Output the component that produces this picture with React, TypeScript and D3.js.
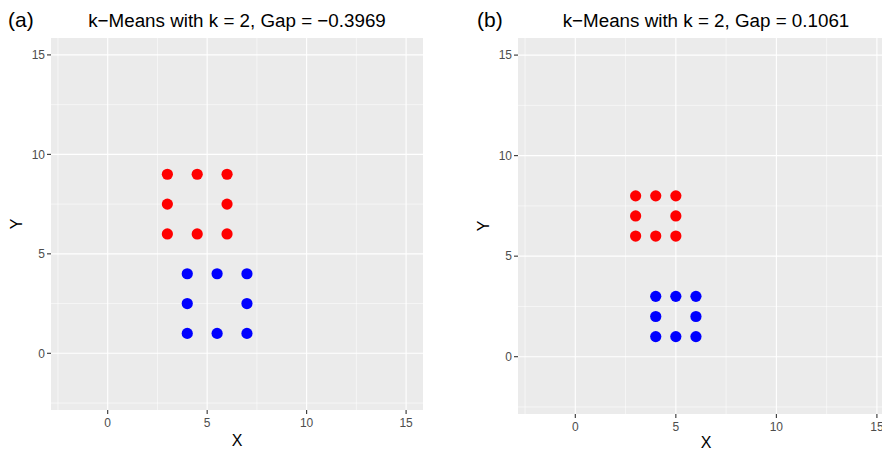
import React from 'react';
import * as d3 from 'd3';

// panel (a): Gap = -0.3969
const redAX = [3, 4.5, 6, 3, 6, 3, 4.5, 6];
const redAY = [9, 9, 9, 7.5, 7.5, 6, 6, 6];
const blueAX = [4, 5.5, 7, 4, 7, 4, 5.5, 7];
const blueAY = [4, 4, 4, 2.5, 2.5, 1, 1, 1];

// panel (b): Gap = 0.1061
const redBX = [3, 4, 5, 3, 5, 3, 4, 5];
const redBY = [8, 8, 8, 7, 7, 6, 6, 6];
const blueBX = [4, 5, 6, 4, 6, 4, 5, 6];
const blueBY = [3, 3, 3, 2, 2, 1, 1, 1];

const majorTicks = [0, 5, 10, 15];
const minorTicks = [-2.5, 2.5, 7.5, 12.5];
const limits = [-2, 15];

const titles = ['k\u2212Means with k = 2, Gap = \u22120.3969', 'k\u2212Means with k = 2, Gap = 0.1061'];
const tags = ['(a)', '(b)'];

const font = '"Liberation Sans", Arial, Helvetica, sans-serif';

type PanelProps = {
  left: number;
  top: number;
  size: number;
  tag: string;
  tagX: number;
  title: string;
  xTitleY: number;
  red: [number[], number[]];
  blue: [number[], number[]];
};

const Panel = ({ left, top, size, tag, tagX, title, xTitleY, red, blue }: PanelProps) => {
  const pad = (limits[1] - limits[0]) * 0.05;
  const x = d3.scaleLinear().domain([limits[0] - pad, limits[1] + pad]).range([left, left + size]);
  const y = d3.scaleLinear().domain([limits[0] - pad, limits[1] + pad]).range([top + size, top]);
  const bottom = top + size;
  const cx = left + size / 2;
  const cy = top + size / 2;

  const dots = (xs: number[], ys: number[], color: string) =>
    xs.map((v, i) => <circle key={color + i} cx={x(v)} cy={y(ys[i])} r={5.6} fill={color} />);

  return (
    <g>
      <text x={tagX} y={27} fontSize={21} fill="#000">{tag}</text>
      <text x={cx} y={27} fontSize={18.8} textAnchor="middle" fill="#000">{title}</text>
      <rect x={left} y={top} width={size} height={size} fill="#EBEBEB" />
      {minorTicks.map(t => (
        <g key={'m' + t}>
          <line x1={x(t)} x2={x(t)} y1={top} y2={bottom} stroke="#fff" strokeWidth={0.55} />
          <line x1={left} x2={left + size} y1={y(t)} y2={y(t)} stroke="#fff" strokeWidth={0.55} />
        </g>
      ))}
      {majorTicks.map(t => (
        <g key={'M' + t}>
          <line x1={x(t)} x2={x(t)} y1={top} y2={bottom} stroke="#fff" strokeWidth={1.1} />
          <line x1={left} x2={left + size} y1={y(t)} y2={y(t)} stroke="#fff" strokeWidth={1.1} />
          <line x1={x(t)} x2={x(t)} y1={bottom} y2={bottom + 4} stroke="#333" strokeWidth={1.1} />
          <line x1={left - 4} x2={left} y1={y(t)} y2={y(t)} stroke="#333" strokeWidth={1.1} />
          <text x={x(t)} y={bottom + 17} fontSize={12} textAnchor="middle" fill="#4D4D4D">{t}</text>
          <text x={left - 6} y={y(t) + 4.3} fontSize={12} textAnchor="end" fill="#4D4D4D">{t}</text>
        </g>
      ))}
      {dots(red[0], red[1], '#FF0000')}
      {dots(blue[0], blue[1], '#0000FF')}
      <text x={cx} y={xTitleY} fontSize={16} textAnchor="middle" fill="#000">X</text>
      <text transform={`translate(${left - 29},${cy}) rotate(-90)`} fontSize={16} textAnchor="middle" fill="#000">Y</text>
    </g>
  );
};

export default function App() {
  return (
    <svg width={882} height={450} style={{ position: 'absolute', left: 0, top: 0, fontFamily: font }}>
      <rect width={882} height={450} fill="#fff" />
      <Panel left={51} top={38} size={372} tag={tags[0]} tagX={8} title={titles[0]} xTitleY={446} red={[redAX, redAY]} blue={[blueAX, blueAY]} />
      <Panel left={518} top={38} size={376} tag={tags[1]} tagX={477} title={titles[1]} xTitleY={448} red={[redBX, redBY]} blue={[blueBX, blueBY]} />
    </svg>
  );
}
